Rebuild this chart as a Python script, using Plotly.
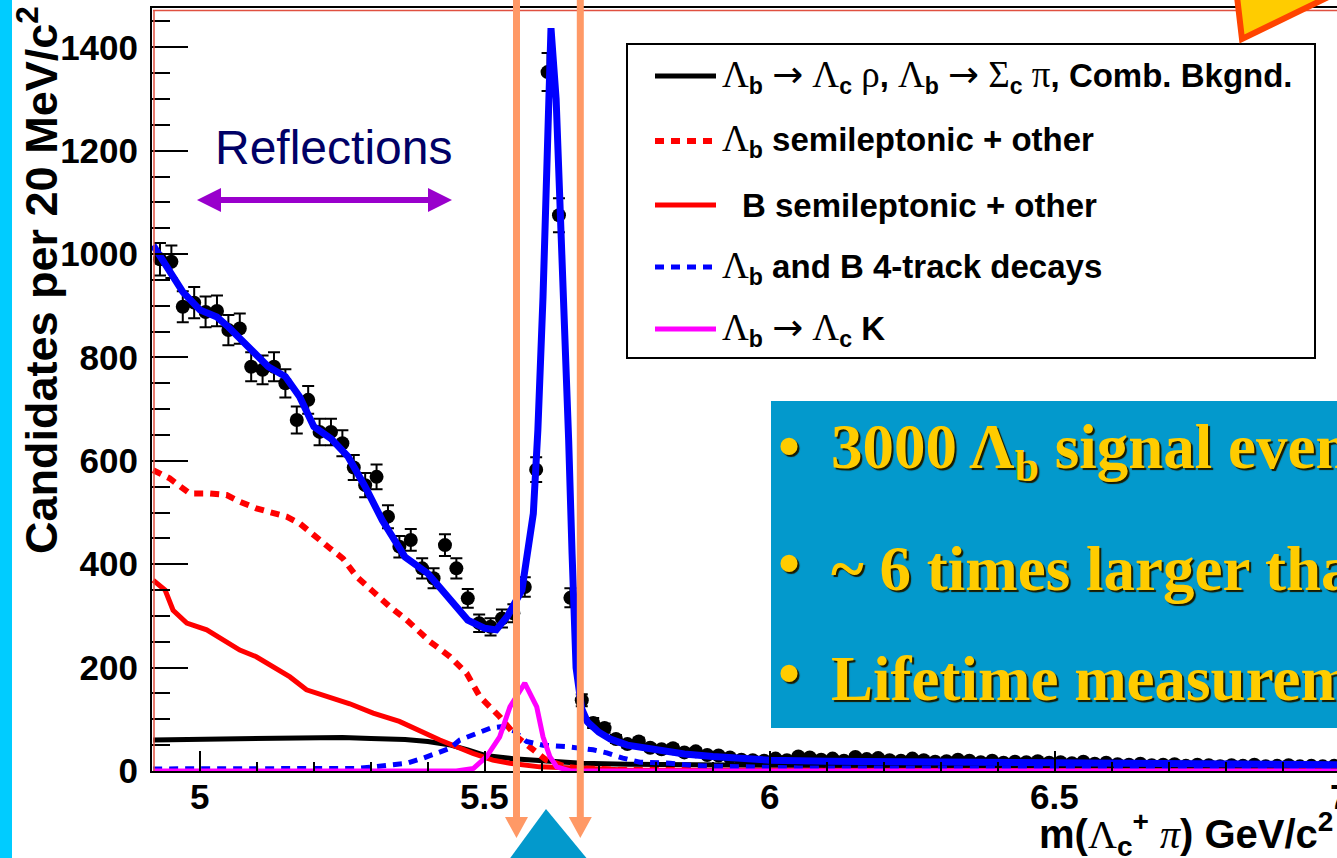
import numpy as np
import plotly.graph_objects as go

# ---------------------------------------------------------------------------
# Λc π invariant-mass spectrum, 20 MeV/c² bins (centres 4.93 ... 6.99 GeV/c²)
# ---------------------------------------------------------------------------
bin_width = 0.02
mass_bins = np.round(4.93 + bin_width * np.arange(104), 3)

counts = [
    990, 985, 898, 906, 888, 890, 853, 856, 782, 776,    # 4.93 - 5.11
    782, 750, 679, 718, 656, 656, 634, 587, 553, 569,    # 5.13 - 5.31
    492, 434, 447, 392, 373, 437, 392, 334, 286, 279,    # 5.33 - 5.51
    295, 305, 356, 583, 1352, 1075, 335, 137, 93, 83,    # 5.53 - 5.71
    62, 52, 57, 45, 42, 44, 36, 38, 31, 30,              # 5.73 - 5.91
    26, 22, 21, 20, 24, 21, 28, 26, 22, 24,              # 5.93 - 6.11
    20, 27, 23, 25, 21, 20, 24, 21, 18, 19,              # 6.13 - 6.31
    22, 20, 17, 20, 16, 18, 17, 19, 16, 17,              # 6.33 - 6.51
    15, 18, 14, 16, 13, 12, 14, 11, 12, 13,              # 6.53 - 6.71
    10, 12, 11, 9, 11, 10, 12, 9, 10, 11,                # 6.73 - 6.91
    9, 10, 9, 10,                                        # 6.93 - 6.99
]
# Poisson uncertainties on the bin contents
count_errors = np.sqrt(counts)

# x-axis labels
x_tick_vals = [5, 5.5, 6, 6.5, 7]
x_tick_text = ["5", "5.5", "6", "6.5", "7"]

# Total fit
fit_mass = [4.918, 4.95, 4.97, 5.00, 5.03, 5.05, 5.08, 5.12, 5.15, 5.175, 5.20,
            5.23, 5.26, 5.29, 5.32, 5.36, 5.40, 5.44, 5.47, 5.50, 5.52, 5.54,
            5.565, 5.585, 5.593, 5.602, 5.609, 5.616, 5.625, 5.632, 5.64, 5.647,
            5.653, 5.66, 5.67, 5.68, 5.70, 5.72, 5.75, 5.80, 5.85, 5.90, 6.00,
            6.10, 6.30, 6.50, 6.70, 7.00]
fit_total = [1017, 963, 927, 892, 878, 859, 827, 782, 763, 724, 666,
             643, 608, 550, 485, 414, 382, 331, 292, 276, 273, 300,
             350, 498, 660, 917, 1200, 1437, 1300, 1105, 880, 640,
             420, 200, 120, 95, 75, 62, 50, 40, 33, 28, 21,
             19, 18, 16, 14, 12]

# Λb → Λc ρ, Λb → Σc π, combinatorial background
comb_mass = [4.918, 5.00, 5.10, 5.20, 5.25, 5.30, 5.36, 5.40, 5.44, 5.47, 5.50,
             5.556, 5.60, 5.67, 5.75, 5.85, 6.00, 6.50, 7.00]
comb_bkg = [60, 61, 63, 64, 65, 63, 61, 57, 50, 41, 30,
            23, 20, 15, 13, 12, 11, 9, 8]

# Λb semileptonic + other
lb_semi_mass = [4.918, 4.947, 4.982, 5.018, 5.047, 5.07, 5.099, 5.129, 5.152,
                5.175, 5.199, 5.228, 5.251, 5.275, 5.304, 5.333, 5.363, 5.404,
                5.439, 5.468, 5.491, 5.526, 5.556, 5.585, 5.608, 5.643, 5.67,
                5.75, 7.00]
lb_semi = [582, 566, 537, 537, 534, 521, 508, 498, 492,
           479, 456, 431, 411, 376, 347, 318, 292, 250,
           221, 189, 144, 105, 66, 41, 21, 8, 5,
           2, 0]

# B semileptonic + other
b_semi_mass = [4.918, 4.939, 4.953, 4.977, 5.012, 5.035, 5.07, 5.099, 5.129,
               5.158, 5.187, 5.228, 5.263, 5.304, 5.35, 5.421, 5.479, 5.514,
               5.544, 5.596, 5.654, 5.75, 7.00]
b_semi = [369, 350, 311, 286, 273, 257, 234, 221, 202,
          182, 157, 143, 130, 112, 96, 60, 34, 21,
          15, 8, 5, 2, 0]

# Λb and B 4-track decays
four_track_mass = [4.918, 5.275, 5.304, 5.363, 5.392, 5.439, 5.456, 5.491, 5.51,
                   5.53, 5.55, 5.573, 5.602, 5.643, 5.69, 5.714, 5.742, 5.772,
                   5.825, 5.872, 5.93, 6.05, 7.00]
four_track = [4, 5, 8, 15, 25, 44, 60, 76, 83,
              86, 78, 57, 50, 47, 41, 35, 25, 17,
              15, 10, 8, 6, 5]

# Λb → Λc K
lck_mass = [4.918, 5.45, 5.48, 5.503, 5.526, 5.544, 5.570, 5.591, 5.602,
            5.614, 5.626, 5.65, 7.00]
lck = [0, 0, 5, 28, 66, 124, 170, 124, 66,
       28, 8, 0, 0]

# ---------------------------------------------------------------------------
# Page geometry (pixels) of the plotting frame
# ---------------------------------------------------------------------------
W_PAGE, H_PAGE = 1337, 858
F_LEFT, F_RIGHT, F_TOP, F_BOTTOM = 152, 1337, 8, 771
X_MIN, X_MAX = 4.916, 6.995


def px(x):
    return (x - F_LEFT) / (F_RIGHT - F_LEFT)


def py(y):
    return (F_BOTTOM - y) / (F_BOTTOM - F_TOP)


def poly(points):
    return "M " + " L ".join(f"{px(x):.5f},{py(y):.5f}" for x, y in points) + " Z"


SANS = "Liberation Sans"
SERIF = "Liberation Serif"


def greek(s, size=None):
    style = f"font-family:{SERIF};font-weight:normal"
    if size:
        style += f";font-size:{size}px"
    return f'<span style="{style}">{s}</span>'


def arrow(size=None):
    style = "font-family:DejaVu Sans;font-weight:normal"
    if size:
        style += f";font-size:{size}px"
    return f'<span style="{style}">→</span>'


fig = go.Figure()

fig.add_trace(go.Scatter(
    x=mass_bins, y=counts, mode="markers", name="Data",
    marker=dict(color="black", size=14),
    error_y=dict(type="data", array=count_errors, color="black", thickness=2, width=6),
))
fig.add_trace(go.Scatter(x=comb_mass, y=comb_bkg, mode="lines", name="Comb. Bkgnd.",
                         line=dict(color="black", width=5)))
fig.add_trace(go.Scatter(x=lb_semi_mass, y=lb_semi, mode="lines", name="Λb semileptonic + other",
                         line=dict(color="#FF0000", width=6, dash="9px,7px")))
fig.add_trace(go.Scatter(x=b_semi_mass, y=b_semi, mode="lines", name="B semileptonic + other",
                         line=dict(color="#FF0000", width=5)))
fig.add_trace(go.Scatter(x=four_track_mass, y=four_track, mode="lines",
                         name="Λb and B 4-track decays",
                         line=dict(color="#0000FF", width=5, dash="9px,7px")))
fig.add_trace(go.Scatter(x=lck_mass, y=lck, mode="lines", name="Λb → Λc K",
                         line=dict(color="#FF00FF", width=5)))
fig.add_trace(go.Scatter(x=fit_mass, y=fit_total, mode="lines", name="Total fit",
                         line=dict(color="#0000FF", width=7)))

tick_font = dict(family=SANS, size=35, color="black", weight="bold")

fig.update_layout(
    width=W_PAGE, height=H_PAGE,
    margin=dict(l=F_LEFT, r=W_PAGE - F_RIGHT, t=F_TOP, b=H_PAGE - F_BOTTOM, pad=0),
    paper_bgcolor="white", plot_bgcolor="white",
    showlegend=False,
    xaxis=dict(
        range=[X_MIN, X_MAX], tickmode="array", tickvals=x_tick_vals,
        ticks="inside", ticklen=20, tickwidth=2, tickcolor="black",
        minor=dict(dtick=0.1, tick0=5, ticks="inside", ticklen=9, tickwidth=1.5,
                   tickcolor="black"),
        showline=True, linecolor="black", linewidth=2, mirror=True,
        showgrid=False, zeroline=False, showticklabels=False,
    ),
    yaxis=dict(
        range=[0, 1476], tickmode="linear", tick0=0, dtick=200,
        ticks="inside", ticklen=36, tickwidth=2, tickcolor="black",
        minor=dict(dtick=50, ticks="inside", ticklen=18, tickwidth=1.5, tickcolor="black"),
        showline=True, linecolor="black", linewidth=2,
        showgrid=False, zeroline=False, tickfont=tick_font, ticklabelstandoff=5,
    ),
)

shapes = []
# red inner edge of the frame
shapes.append(dict(type="line", xref="paper", yref="paper", x0=px(154), x1=px(154),
                   y0=py(F_BOTTOM), y1=py(10), line=dict(color="#E05040", width=1.5)))
shapes.append(dict(type="line", xref="paper", yref="paper", x0=px(153), x1=1,
                   y0=py(10.5), y1=py(10.5), line=dict(color="#E05040", width=1.5)))
# cyan slide band on the left
shapes.append(dict(type="rect", xref="paper", yref="paper", x0=px(0), x1=px(12),
                   y0=py(H_PAGE), y1=py(0), fillcolor="#00CCFF", line=dict(width=0)))
# legend box
shapes.append(dict(type="rect", xref="paper", yref="paper", x0=px(627), x1=px(1315),
                   y0=py(358), y1=py(44), fillcolor="white", line=dict(color="black", width=2)))
# legend line samples
legend_rows = [
    (76, "black", "solid", 5),
    (141, "#FF0000", "9px,7px", 6),
    (205, "#FF0000", "solid", 5),
    (267, "#0000FF", "9px,7px", 5),
    (329, "#FF00FF", "solid", 5),
]
for y, col, dash, w in legend_rows:
    shapes.append(dict(type="line", xref="paper", yref="paper", x0=px(655), x1=px(716),
                       y0=py(y), y1=py(y), line=dict(color=col, width=w, dash=dash)))
# purple double arrow under "Reflections"
shapes.append(dict(type="path", xref="paper", yref="paper", fillcolor="#9900CC",
                   line=dict(width=0),
                   path=poly([(197, 200), (221, 188), (221, 197), (428, 197), (428, 188),
                              (452, 200), (428, 212), (428, 203), (221, 203), (221, 212)])))
# signal-window arrows
for xc in (516.5, 580.3):
    shapes.append(dict(type="path", xref="paper", yref="paper", fillcolor="#FF9966",
                       line=dict(width=0),
                       path=poly([(xc - 3.5, -2), (xc + 3.5, -2), (xc + 3.5, 817),
                                  (xc + 11.5, 817), (xc, 838), (xc - 11.5, 817),
                                  (xc - 3.5, 817)])))
# blue pointer at the bottom
shapes.append(dict(type="path", xref="paper", yref="paper", fillcolor="#0399CC",
                   line=dict(width=0),
                   path=poly([(500, 872), (546, 809), (598, 872)])))
# text panel
shapes.append(dict(type="rect", xref="paper", yref="paper", x0=px(771), x1=px(1345),
                   y0=py(728), y1=py(401), fillcolor="#0399CC", line=dict(width=0)))
# callout corner at the top right
shapes.append(dict(type="path", xref="paper", yref="paper", fillcolor="#FFCC00",
                   line=dict(color="#FF4400", width=6),
                   path=poly([(1236, -12), (1242, 39), (1355, -16)])))
fig.update_layout(shapes=shapes)

ann = []
# x-axis tick labels (the last one sits just past the right edge of the frame)
for v, t in zip(x_tick_vals, x_tick_text):
    if v <= X_MAX:
        ann.append(dict(xref="x", yref="paper", x=v, y=py(796), xanchor="center",
                        yanchor="middle", showarrow=False, text=t, font=tick_font))
    else:
        ann.append(dict(xref="x", yref="paper", x=X_MAX, xshift=(v - X_MAX) * 570,
                        y=py(796), xanchor="center", yanchor="middle", showarrow=False,
                        text=t, font=tick_font))
# y-axis title
ann.append(dict(xref="paper", yref="paper", x=px(38), y=py(4), xanchor="center", yanchor="top",
                textangle=-90, showarrow=False,
                text="Candidates per 20 MeV/c<sup>2</sup>",
                font=dict(family=SANS, size=45, color="black", weight="bold")))
# x-axis title
ann.append(dict(xref="paper", yref="paper", x=px(1335), y=py(834), xanchor="right", yanchor="middle",
                showarrow=False,
                text=f"m({greek('Λ')}<sub>c</sub><sup>+</sup> {greek('<i>π</i>')}) GeV/c<sup>2</sup>",
                font=dict(family=SANS, size=40, color="black", weight="bold")))
# legend entries
G = 37  # size of the Greek letters and arrows in the legend
legend_texts = [
    (76, 720, f"{greek('Λ', G)}<sub>b</sub> {arrow(G)} {greek('Λ', G)}<sub>c</sub> {greek('ρ', G)}, "
              f"{greek('Λ', G)}<sub>b</sub> {arrow(G)} {greek('Σ', G)}<sub>c</sub> {greek('π', G)}, "
              f"Comb. Bkgnd."),
    (141, 720, f"{greek('Λ', G)}<sub>b</sub> semileptonic + other"),
    (205, 740, "B semileptonic + other"),
    (267, 720, f"{greek('Λ', G)}<sub>b</sub> and B 4-track decays"),
    (329, 720, f"{greek('Λ', G)}<sub>b</sub> {arrow(G)} {greek('Λ', G)}<sub>c</sub> K"),
]
for y, x, t in legend_texts:
    ann.append(dict(xref="paper", yref="paper", x=px(x), y=py(y), xanchor="left", yanchor="middle",
                    showarrow=False, text=t,
                    font=dict(family=SANS, size=33, color="black", weight="bold")))
# "Reflections" label
ann.append(dict(xref="paper", yref="paper", x=px(333), y=py(147), xanchor="center", yanchor="middle",
                showarrow=False, text="Reflections",
                font=dict(family=SANS, size=48, color="#000066")))
# bullet points on the panel
bullets = [
    (452, "3000 Λ<sub>b</sub> signal events"),
    (569, "~ 6 times larger than"),
    (679, "Lifetime measurement"),
]
panel_font = dict(family=SERIF, size=63, color="#FFCC00", weight="bold",
                  shadow="2px 2px 1px #1a1a00")
for y, t in bullets:
    ann.append(dict(xref="paper", yref="paper", x=px(776), y=py(y - 6), xanchor="left",
                    yanchor="middle", showarrow=False, text="•", font=panel_font))
    ann.append(dict(xref="paper", yref="paper", x=px(829), y=py(y), xanchor="left",
                    yanchor="middle", showarrow=False, text=t, font=panel_font))
fig.update_layout(annotations=ann)

fig.write_html("out.html")
